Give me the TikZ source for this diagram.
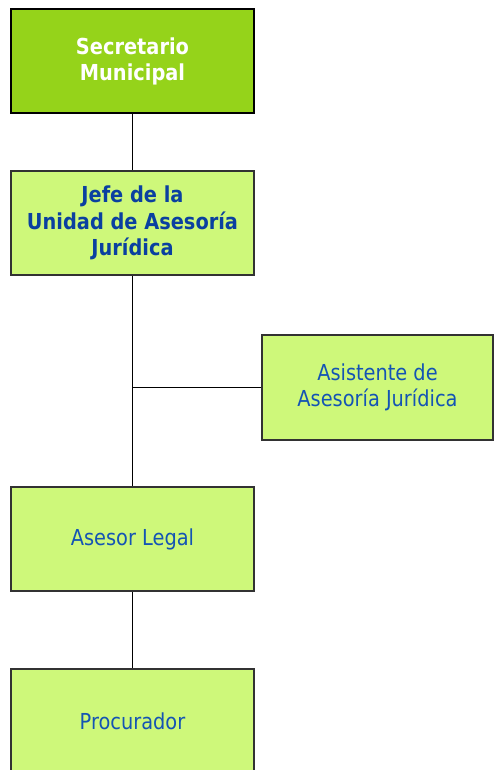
\documentclass[tikz,border=0pt]{standalone}
\usepackage{fontspec}
\setmainfont{DejaVu Sans}[FakeStretch=0.88]
\definecolor{topfill}{RGB}{149,211,26}
\definecolor{lightfill}{RGB}{206,248,122}
\definecolor{boldblue}{RGB}{10,64,160}
\definecolor{normblue}{RGB}{20,84,180}
\definecolor{edge}{RGB}{50,50,50}
\begin{document}
\begin{tikzpicture}[x=1pt,y=-1pt,
  orgbox/.style={draw=edge, line width=1.5pt, fill=lightfill, rectangle, inner sep=0pt,
    minimum width=243pt, minimum height=104pt, align=center,
    font=\fontsize{22}{26.5}\selectfont, text=normblue},
  topbox/.style={orgbox, draw=black, fill=topfill, text=white, font=\fontsize{22}{26}\selectfont\bfseries},
  headbox/.style={orgbox, text=boldblue, font=\fontsize{22}{26.5}\selectfont\bfseries},
  link/.style={draw=black, line width=1.5pt}]
\useasboundingbox (0,0) rectangle (493,770);
\node[topbox] (b1) at (132.5,61) {Secretario\\Municipal};
\node[headbox] (b2) at (132.5,223) {Jefe de la\\Unidad de Asesoría\\Jurídica};
\node[orgbox, minimum width=231pt, minimum height=105pt] (b3) at (377.5,387.5) {Asistente de\\Asesoría Jurídica};
\node[orgbox] (b4) at (132.5,539) {Asesor Legal};
\node[orgbox] (b5) at (132.5,721) {Procurador};
\coordinate (j) at (b2.south |- b3.west);
\draw[link] (b1.south) -- (b2.north);
\draw[link] (b2.south) -- (b4.north);
\draw[link] (j) -- (b3.west);
\draw[link] (b4.south) -- (b5.north);
\end{tikzpicture}
\end{document}
